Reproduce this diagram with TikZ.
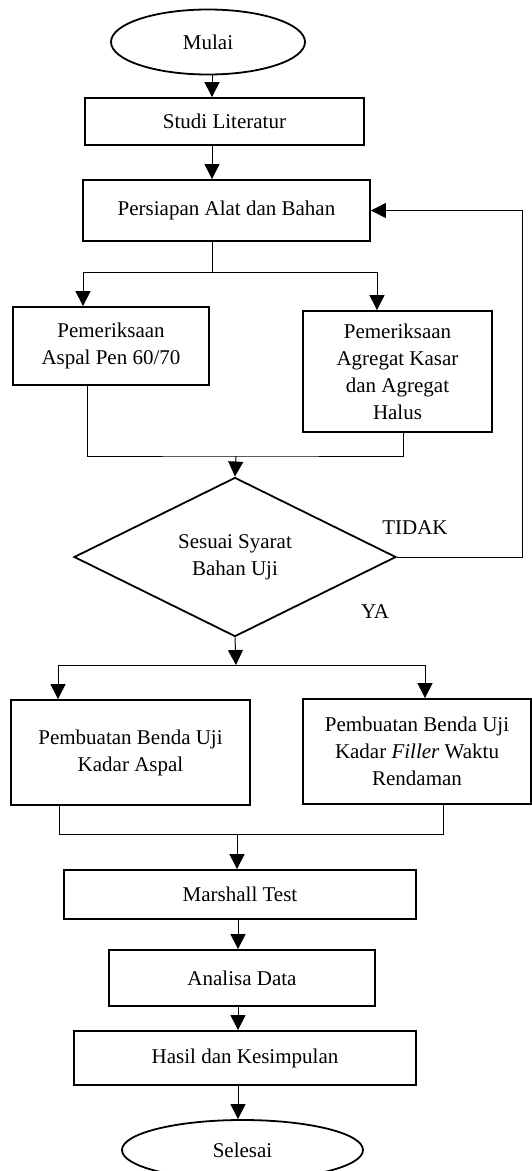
\documentclass[tikz,border=0pt]{standalone}
\usepackage{fontspec}
\setmainfont{Liberation Serif}
\usetikzlibrary{shapes.geometric, arrows.meta, calc}

\tikzset{
  proses/.style={draw, line width=1.8pt, rectangle, inner sep=2pt, align=center},
  terminal/.style={draw, line width=1.8pt, ellipse, inner sep=0pt},
  keputusan/.style={draw, line width=1.8pt, diamond, inner sep=0pt, align=center},
  garis/.style={line width=1pt},
  panah/.style={line width=1pt, -{Triangle[width=15pt,length=15pt]}}
}

\begin{document}
\fontsize{21}{27}\selectfont
\begin{tikzpicture}[x=1pt, y=-1pt]
\useasboundingbox (0,0) rectangle (531,1171);
% blok atas
\node[terminal, minimum width=194, minimum height=65] (mulai) at (208,42) {Mulai};
\node[proses, minimum width=279, minimum height=47] (studi) at (224.5,121.5) {Studi Literatur};
\node[proses, minimum width=287, minimum height=61] (persiapan) at (226.5,210.5) {Persiapan Alat dan Bahan};
\node[proses, minimum width=196, minimum height=78] (aspal) at (111,346) {Pemeriksaan\\Aspal Pen 60/70};
\node[proses, minimum width=189, minimum height=121] (agregat) at (397.5,371.5) {Pemeriksaan\\Agregat Kasar\\dan Agregat\\Halus};
\node[keputusan, minimum width=322, minimum height=146] (syarat) at (235,557) {Sesuai Syarat\\Bahan Uji};
% blok bawah
\node[proses, minimum width=239, minimum height=105] (benda) at (130.5,752.5) {Pembuatan Benda Uji\\Kadar Aspal};
\node[proses, minimum width=228, minimum height=105] (filler) at (417,751.5) {Pembuatan Benda Uji\\Kadar \textit{Filler} Waktu\\Rendaman};
\node[proses, minimum width=352, minimum height=49] (marshall) at (240,894.5) {Marshall Test};
\node[proses, minimum width=266, minimum height=56] (analisa) at (242,978) {Analisa Data};
\node[proses, minimum width=342, minimum height=54] (hasil) at (245,1058) {Hasil dan Kesimpulan};
\node[terminal, minimum width=241, minimum height=60] (selesai) at (242.5,1150) {Selesai};

\node (tidak) at (415,528) {TIDAK};
\node (ya) at (375,612) {YA};

\coordinate (cabang1) at (212,272);
\coordinate (gabung1) at (236,456);
\coordinate (cabang2) at (236,665);
\coordinate (gabung2) at (237,834);
\coordinate (trunk) at (238,0);

\draw[panah] (mulai.south -| cabang1) -- (studi.north -| cabang1);
\draw[panah] (studi.south -| cabang1) -- (persiapan.north -| cabang1);
\draw[garis] (persiapan.south -| cabang1) -- (cabang1);
\draw[panah] (cabang1) -| ([xshift=-28pt]aspal.north);
\draw[panah] (cabang1) -| ([xshift=-20.5pt]agregat.north);
\draw[garis] ([xshift=-24pt]aspal.south) |- (gabung1) -| ([xshift=5.5pt]agregat.south);
\draw[panah] (gabung1) -- (syarat.north);
\draw[panah] (syarat.east) -- ++(126,0) |- (persiapan.east);
\draw[panah] (syarat.south) -- (cabang2);
\draw[panah] (cabang2) -| ([xshift=-72.5pt]benda.north);
\draw[panah] (cabang2) -| ([xshift=8pt]filler.north);
\draw[garis] ([xshift=-71.5pt]benda.south) |- (gabung2) -| ([xshift=26pt]filler.south);
\draw[panah] (gabung2) -- (marshall.north -| gabung2);
\draw[panah] (marshall.south -| trunk) -- (analisa.north -| trunk);
\draw[panah] (analisa.south -| trunk) -- (hasil.north -| trunk);
\draw[panah] (hasil.south -| trunk) -- (selesai.north -| trunk);
\end{tikzpicture}
\end{document}
